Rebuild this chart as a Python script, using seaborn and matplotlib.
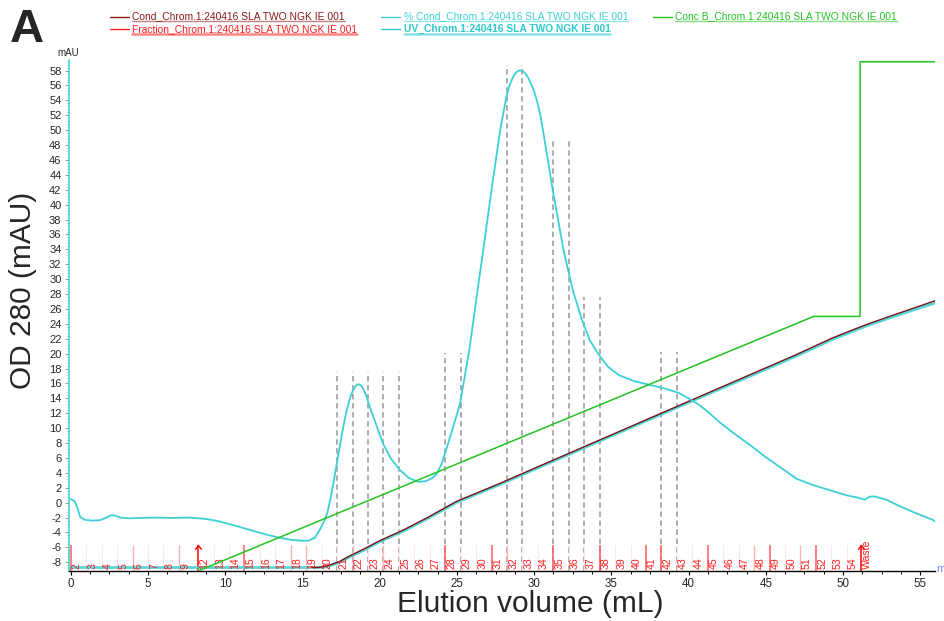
import matplotlib
matplotlib.use("Agg")
import matplotlib.pyplot as plt
from matplotlib.ticker import MultipleLocator, AutoMinorLocator
from matplotlib.lines import Line2D
import seaborn as sns

# ---------------- data ----------------
# UV 280 nm absorbance (mAU) against elution volume (mL)
uv_ml = [0.0, 0.25, 0.45, 0.6, 0.9, 1.4, 1.9, 2.3, 2.6, 2.9, 3.2, 3.8, 4.5, 5.5, 6.5,
         7.7, 8.8, 9.6, 10.5, 11.5, 12.7, 13.5, 14.3, 15.0, 15.4, 15.8, 16.1, 16.4,
         16.6, 16.8, 17.0, 17.2, 17.5, 17.7, 17.85, 18.1, 18.25, 18.4, 18.5, 18.6, 18.7,
         18.85, 18.95, 19.1, 19.35, 19.8, 20.2, 20.7, 21.3, 21.9, 22.5, 23.0, 23.4, 23.7,
         24.0, 24.3, 24.7, 25.2, 25.8, 26.3, 26.7, 27.3, 27.8, 28.2, 28.4, 28.6, 28.8,
         29.0, 29.2, 29.4, 29.6, 29.8, 30.0, 30.2, 30.4, 30.6, 31.2, 31.9, 32.5, 33.1,
         33.6, 34.2, 34.8, 35.5, 36.5, 37.5, 38.5, 39.4, 40.0, 40.7, 41.3, 42.0, 43.0,
         44.0, 45.0, 45.9, 47.0, 48.0, 49.1, 50.2, 50.9, 51.4, 51.7, 52.0, 52.8, 53.7,
         54.7, 55.8, 55.95]
uv_mau = [0.5, 0.2, -0.8, -1.9, -2.3, -2.4, -2.35, -2.0, -1.7, -1.75, -2.0, -2.1, -2.05,
          -2.0, -2.05, -2.0, -2.2, -2.5, -3.0, -3.6, -4.3, -4.7, -5.0, -5.1, -5.1, -4.7,
          -3.7, -2.5, -1.4, 0.4, 2.6, 5.0, 8.6, 10.8, 12.3, 14.2, 15.0, 15.5, 15.8, 15.9,
          15.85, 15.6, 15.2, 14.5, 12.9, 10.3, 8.0, 6.0, 4.4, 3.3, 2.8, 2.9, 3.3, 3.9,
          5.2, 7.1, 9.8, 13.3, 20.5, 28.0, 33.9, 42.9, 50.0, 54.5, 56.0, 57.0, 57.7, 58.0,
          58.0, 57.7, 57.1, 56.2, 55.2, 53.8, 52.0, 49.6, 42.0, 33.9, 28.5, 24.5, 21.8,
          19.8, 18.2, 17.1, 16.3, 15.8, 15.3, 14.7, 14.0, 13.1, 12.1, 10.8, 9.2, 7.7, 6.1,
          4.8, 3.2, 2.4, 1.7, 1.0, 0.7, 0.4, 0.8, 0.85, 0.4, -0.5, -1.4, -2.3, -2.5]

# Conductivity traces, shown on the mAU scale
cond_ml = [15.6, 16.0, 16.5, 17.0, 17.4, 18.0, 18.9, 20.0, 21.5, 23.0, 25.0, 27.8, 30.0,
           33.0, 36.0, 40.0, 44.0, 47.0, 49.3, 51.0, 51.5, 53.0, 55.95]
cond_val = [-8.7, -8.7, -8.55, -8.2, -7.9, -7.2, -6.3, -5.1, -3.7, -2.1, 0.2, 2.6, 4.6,
            7.3, 10.0, 13.6, 17.2, 19.9, 22.1, 23.5, 23.9, 25.0, 27.1]
pct_cond_ml = [0.0, 16.0, 16.5, 17.0, 17.4, 18.0, 18.9, 20.0, 21.5, 23.0, 25.0, 27.8,
               30.0, 33.0, 36.0, 40.0, 44.0, 47.0, 49.3, 51.0, 51.5, 53.0, 55.95]
pct_cond_val = [-8.7, -8.7, -8.65, -8.3, -8.0, -7.35, -6.45, -5.25, -3.85, -2.25, 0.05,
                2.45, 4.45, 7.15, 9.85, 13.45, 17.0, 19.7, 21.9, 23.3, 23.7, 24.8, 26.8]

# Gradient (% buffer B)
conc_b_ml = [8.24, 48.1, 51.1, 51.1, 55.95]
conc_b_pct = [0, 50, 50, 100, 100]

# Fraction collector marks
frac_labels = ["2", "3", "4", "5", "6", "7", "8", "9", "12", "13", "14", "15", "16",
               "17", "18", "19", "20", "21", "22", "23", "24", "25", "26", "27", "28",
               "29", "30", "31", "32", "33", "34", "35", "36", "37", "38", "39", "40",
               "41", "42", "43", "44", "45", "46", "47", "48", "49", "50", "51", "52",
               "53", "54", "Waste"]
frac_start_ml = [0.0, 1.0, 2.0, 3.0, 4.0, 5.0, 6.0, 7.0, 8.24, 9.24, 10.24, 11.24,
                 12.24, 13.24, 14.24, 15.24, 16.24, 17.24, 18.24, 19.24, 20.24, 21.24,
                 22.24, 23.24, 24.24, 25.24, 26.24, 27.24, 28.24, 29.24, 30.24, 31.24,
                 32.24, 33.24, 34.24, 35.24, 36.24, 37.24, 38.24, 39.24, 40.24, 41.24,
                 42.24, 43.24, 44.24, 45.24, 46.24, 47.24, 48.24, 49.24, 50.24, 51.15]
strong_fracs = ["2", "15", "28", "31", "35", "38", "41", "42", "45", "49", "52"]
medium_fracs = ["6", "9", "18", "19", "22", "24", "32", "48", "51"]
arrow_fracs = ["12", "Waste"]

# Pooled fraction boundaries (dashed markers) and their heights (mAU)
pool_fracs = [["21", "22", "23", "24", "25"], ["28", "29"], ["32", "33"],
              ["35", "36"], ["37", "38"], ["42", "43"]]
pool_top = [17.6, 20.1, 58.7, 48.7, 27.6, 20.2]

legend_rows = [
    [("Cond_Chrom.1:240416 SLA TWO NGK IE 001", "#8b1a1a", "normal"),
     ("% Cond_Chrom.1:240416 SLA TWO NGK IE 001", "#3cd0d4", "normal"),
     ("Conc B_Chrom.1:240416 SLA TWO NGK IE 001", "#22c422", "normal")],
    [("Fraction_Chrom.1:240416 SLA TWO NGK IE 001", "#ff2020", "normal"),
     ("UV_Chrom.1:240416 SLA TWO NGK IE 001", "#2fc8cc", "bold")],
]

# ---------------- style ----------------
sns.set_theme(style="white")
plt.rcParams["font.family"] = ["Liberation Sans", "DejaVu Sans"]
plt.rcParams["axes.unicode_minus"] = False

CYAN = "#3cd0d4"
DARK_RED = "#7a1414"
GREEN = "#22c422"

W, H = 944, 621
fig = plt.figure(figsize=(W / 100, H / 100), dpi=100)
ax_left, ax_right, ax_top, ax_bot = 68.5, 935, 60, 571
ax = fig.add_axes([ax_left / W, 1 - ax_bot / H, (ax_right - ax_left) / W, (ax_bot - ax_top) / H])

YMIN, YMAX = -9.17, 59.42
XMIN, XMAX = -0.15, 55.95
ax.set_xlim(XMIN, XMAX)
ax.set_ylim(YMIN, YMAX)

# fraction marks along the bottom
mark_top = -5.7
for lab, x0 in zip(frac_labels, frac_start_ml):
    if lab in arrow_fracs:
        col, lw = "#ff0000", 1.1
    elif lab in strong_fracs:
        col, lw = "#ff5c5c", 1.1
    elif lab in medium_fracs:
        col, lw = "#ffb4b4", 1.0
    else:
        col, lw = "#ffe6e6", 0.8
    ax.vlines(x0, YMIN, mark_top, colors=col, lw=lw, zorder=2)
    if lab in arrow_fracs:
        ax.plot([x0], [mark_top + 0.05], marker=[(-1, -1.3), (0, 0), (1, -1.3)],
                markersize=6, mfc="none", mec="#ff0000", mew=1.0, zorder=2)
    ax.text(x0 + 0.4, -8.85, lab, rotation=90, ha="center", va="bottom",
            fontsize=7.6, color="#ff1e1e", zorder=7)

# dashed pooled-fraction markers
start_of = dict(zip(frac_labels, frac_start_ml))
for fr_list, top in zip(pool_fracs, pool_top):
    for fr in fr_list:
        ax.vlines(start_of[fr], YMIN, top, colors="#a6a6a6", lw=1.3,
                  linestyles=(0, (3, 2)), zorder=1)

# conductivity traces
sns.lineplot(x=pct_cond_ml, y=pct_cond_val, ax=ax, color=CYAN, lw=2.0,
             estimator=None, sort=False, zorder=3, alpha=0.85)
sns.lineplot(x=cond_ml, y=cond_val, ax=ax, color=DARK_RED, lw=1.0,
             estimator=None, sort=False, zorder=4)
# UV trace
sns.lineplot(x=uv_ml, y=uv_mau, ax=ax, color=CYAN, lw=1.3,
             estimator=None, sort=False, zorder=5)

# gradient on its own hidden percent scale
axb = ax.twinx()
sns.lineplot(x=conc_b_ml, y=conc_b_pct, ax=axb, color=GREEN, lw=1.1,
             estimator=None, sort=False)
axb.set_ylim(0, 100.35)
axb.set_xlim(XMIN, XMAX)
axb.axis("off")

# axes styling
for s in ["top", "right"]:
    ax.spines[s].set_visible(False)
ax.spines["left"].set_color(CYAN)
ax.spines["left"].set_linewidth(1.1)
ax.spines["bottom"].set_color("black")
ax.spines["bottom"].set_linewidth(1.0)

ax.xaxis.set_major_locator(MultipleLocator(5))
ax.xaxis.set_minor_locator(MultipleLocator(1.25))
ax.yaxis.set_major_locator(MultipleLocator(2))
ax.yaxis.set_minor_locator(AutoMinorLocator(5))
ax.tick_params(axis="x", which="major", direction="out", length=3.2, width=0.8,
               color="black", labelsize=8.3, pad=2, bottom=True)
ax.tick_params(axis="x", which="minor", direction="out", length=2.0, width=0.7,
               color="black", bottom=True)
ax.tick_params(axis="y", which="major", direction="out", length=3.0, width=0.7,
               color="#9a9a9a", labelsize=8, pad=2, left=True)
ax.tick_params(axis="y", which="minor", direction="out", length=1.8, width=0.6,
               color="#b8b8b8", left=True)
ax.grid(False)

ax.set_xlabel("Elution volume (mL)", fontsize=21.5)
ax.xaxis.set_label_coords((530 - ax_left) / (ax_right - ax_left), (ax_bot - 604) / (ax_bot - ax_top))
ax.xaxis.label.set_va("center")
ax.set_ylabel("OD 280 (mAU)", fontsize=21.5)
ax.yaxis.set_label_coords((23 - ax_left) / (ax_right - ax_left), (ax_bot - 290) / (ax_bot - ax_top))
ax.yaxis.label.set_va("center")

# unit labels
fig.text(68 / W, 1 - 52.5 / H, "mAU", fontsize=7, ha="center", va="center")
fig.text(936.5 / W, 1 - 569.5 / H, "m", fontsize=8, color="#6d8cff", ha="left", va="center")

# panel letter
fig.text(26.5 / W, 1 - 30 / H, "A", fontsize=34, fontweight="bold", ha="center", va="center")

# legend header
row_y = [16.5, 29.0]
col_x = [[109.5, 381.0, 652.5], [109.5, 381.0]]
texts = []
for r, row in enumerate(legend_rows):
    for c, (label, col, wt) in enumerate(row):
        x0 = col_x[r][c]
        y = 1 - row_y[r] / H
        fig.add_artist(Line2D([x0 / W, (x0 + 19) / W], [y, y], color=col, lw=1.0))
        t = fig.text((x0 + 22.5) / W, y, label, fontsize=7.4, color=col,
                     fontweight=wt, ha="left", va="center")
        texts.append((t, col, r))

fig.canvas.draw()
renderer = fig.canvas.get_renderer()
for t, col, r in texts:
    bb = t.get_window_extent(renderer)
    uy = bb.y0 + 0.5
    lw = 1.0 if r == 0 else 1.8
    fig.add_artist(Line2D([bb.x0 / W, bb.x1 / W], [uy / H, uy / H], color=col,
                          lw=lw, alpha=0.55))

fig.savefig("out.png", dpi=100)
